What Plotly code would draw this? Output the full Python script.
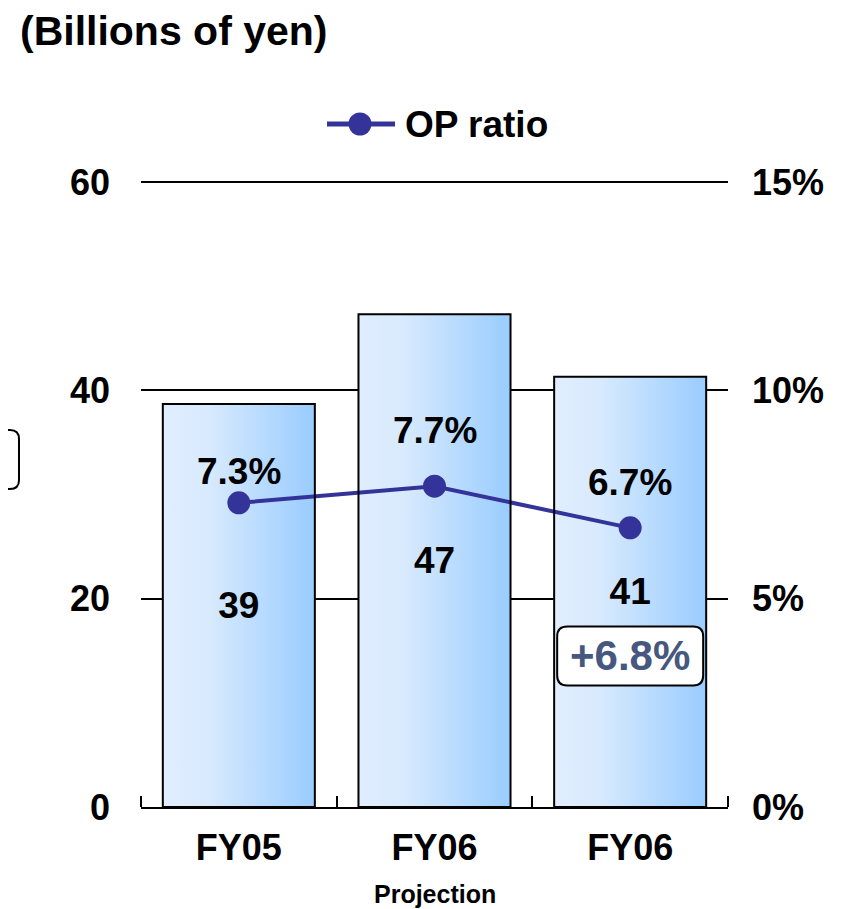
import plotly.graph_objects as go

# ---- data ----
categories = ["FY05", "FY06", "FY06"]
op_values = [38.7, 47.3, 41.3]          # operating profit, billions of yen
op_labels = ["39", "47", "41"]
op_ratio = [0.073, 0.077, 0.067]        # OP ratio
ratio_labels = ["7.3%", "7.7%", "6.7%"]
series_name = "OP ratio"
growth_label = "+6.8%"
sub_label = "Projection"
left_ticks = [0, 20, 40, 60]
right_ticks = [0, 0.05, 0.10, 0.15]
right_tick_text = ["0%", "5%", "10%", "15%"]

# ---- style ----
FONT = "Liberation Sans, Arial, sans-serif"
BAR_W = 0.777
LINE_COLOR = "#333399"
ratio_label_shift = [31, 56, 45]
xs = list(range(len(categories)))
Y_TOP = 60.1
Y2_TOP = 0.15 * Y_TOP / 60


def rounded_rect(x0, y0, x1, y1, r):
    return (f"M {x0+r},{y0} L {x1-r},{y0} Q {x1},{y0} {x1},{y0+r} "
            f"L {x1},{y1-r} Q {x1},{y1} {x1-r},{y1} L {x0+r},{y1} "
            f"Q {x0},{y1} {x0},{y1-r} L {x0},{y0+r} Q {x0},{y0} {x0+r},{y0} Z")


fig = go.Figure()

# gradient fills of the bars
for i, v in zip(xs, op_values):
    fig.add_trace(go.Scatter(
        x=[i - BAR_W / 2, i + BAR_W / 2, i + BAR_W / 2, i - BAR_W / 2, i - BAR_W / 2],
        y=[0, 0, v, v, 0],
        mode="lines", line=dict(width=0), fill="toself",
        fillgradient=dict(type="horizontal",
                          colorscale=[[0, "#e0eeff"], [0.3, "#d8eafd"], [1, "#99ccff"]]),
        showlegend=False, hoverinfo="skip", xaxis="x", yaxis="y"))

# bar outlines + value labels
fig.add_trace(go.Bar(
    x=xs, y=op_values, width=BAR_W, yaxis="y3",
    marker=dict(color="rgba(0,0,0,0)", line=dict(color="black", width=2)),
    text=op_labels, textposition="inside", insidetextanchor="middle", textangle=0,
    textfont=dict(family=FONT, size=37, color="black", weight="bold"),
    showlegend=False, hoverinfo="skip"))

# OP ratio line
fig.add_trace(go.Scatter(
    x=xs, y=op_ratio, yaxis="y2", name=series_name,
    mode="lines+markers",
    line=dict(color=LINE_COLOR, width=4),
    marker=dict(color=LINE_COLOR, size=23),
    showlegend=False))

annotations = []
for i, (r, t, s) in enumerate(zip(op_ratio, ratio_labels, ratio_label_shift)):
    annotations.append(dict(
        x=i, y=r, xref="x", yref="y2", text=t, showarrow=False,
        yanchor="middle", yshift=s,
        font=dict(family=FONT, size=37, color="black", weight="bold")))

annotations.append(dict(
    x=1, y=0, xref="x", yref="paper", text=sub_label, showarrow=False,
    yanchor="middle", yshift=-87,
    font=dict(family=FONT, size=25, color="black", weight="bold")))

annotations.append(dict(
    x=2, y=14.5, xref="x", yref="y", text=growth_label, showarrow=False,
    yanchor="middle", xanchor="center",
    font=dict(family=FONT, size=42, color="#46587f", weight="bold")))

# legend (drawn by hand so the key matches the original's long line)
annotations.append(dict(
    x=0, y=1, xref="paper", yref="paper", xanchor="left", yanchor="middle",
    xshift=262, yshift=57, text=series_name, showarrow=False,
    font=dict(family=FONT, size=37, color="black", weight="bold")))

shapes = [
    dict(type="line", xref="paper", yref="paper", xsizemode="pixel", ysizemode="pixel",
         xanchor=0, yanchor=1, x0=186, x1=254, y0=57, y1=57,
         line=dict(color=LINE_COLOR, width=5), layer="above"),
    dict(type="circle", xref="paper", yref="paper", xsizemode="pixel", ysizemode="pixel",
         xanchor=0, yanchor=1, x0=207.5, x1=230.5, y0=45.5, y1=68.5,
         line=dict(width=0), fillcolor=LINE_COLOR, layer="above"),
    dict(type="path", xref="x", yref="y", xsizemode="pixel", ysizemode="pixel",
         xanchor=2, yanchor=14.5,
         path=rounded_rect(-73, -29.5, 73, 29.5, 10),
         line=dict(color="black", width=2), fillcolor="white", layer="above"),
    dict(type="path", xref="paper", yref="paper", xsizemode="pixel", ysizemode="pixel",
         xanchor=0, yanchor=0,
         path=rounded_rect(-341, 318, -122, 377, 9),
         line=dict(color="black", width=2), fillcolor="white", layer="above"),
    dict(type="circle", xref="paper", yref="paper", xsizemode="pixel", ysizemode="pixel",
         xanchor=0, yanchor=0, x0=-173, x1=-135, y0=323, y1=362,
         line=dict(width=0), fillcolor="#4b5a87", layer="above"),
]

tick_font = dict(family=FONT, size=36, color="black", weight="bold")

fig.update_layout(
    width=836, height=901, autosize=False,
    margin=dict(l=133, r=116, t=173, b=102),
    paper_bgcolor="white", plot_bgcolor="white",
    title=dict(text="(Billions of yen)", x=12 / 836, xref="container", xanchor="left",
               y=1 - 23 / 901, yref="container", yanchor="middle",
               font=dict(family=FONT, size=41, color="black", weight="bold")),
    xaxis=dict(range=[-0.5, 2.5], tickmode="array", tickvals=xs, ticktext=categories,
               showgrid=False, zeroline=False, showline=True, linecolor="black", linewidth=2,
               ticks="", ticklabelstandoff=8, tickfont=tick_font,
               minor=dict(tickmode="array", tickvals=[-0.5, 0.5, 1.5, 2.5], ticks="inside",
                          ticklen=11, tickwidth=2, tickcolor="black", showgrid=False)),
    yaxis=dict(range=[0, Y_TOP], tickmode="array", tickvals=left_ticks,
               showgrid=True, gridcolor="black", gridwidth=1.5, zeroline=False,
               showline=False, ticks="", ticklabelstandoff=30, tickfont=tick_font),
    yaxis3=dict(range=[0, Y_TOP], overlaying="y", visible=False),
    yaxis2=dict(range=[0, Y2_TOP], overlaying="y", side="right", tickmode="array",
                tickvals=right_ticks, ticktext=right_tick_text, showgrid=False,
                zeroline=False, showline=False, ticks="", ticklabelstandoff=23,
                tickfont=tick_font),
    showlegend=False,
    annotations=annotations,
    shapes=shapes,
)

fig.write_html("out.html")
